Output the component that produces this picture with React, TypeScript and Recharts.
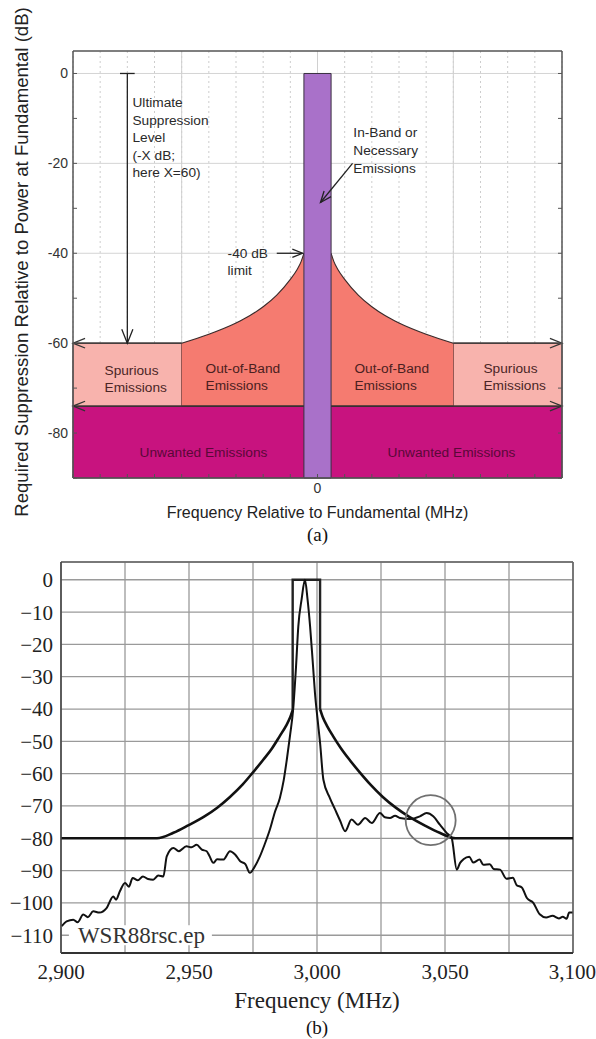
import {
  ComposedChart,
  Line,
  Area,
  XAxis,
  YAxis,
  CartesianGrid,
  ReferenceArea,
  ReferenceLine,
  ReferenceDot,
  Label,
} from 'recharts';

const SANS = '"Liberation Sans", Arial, Helvetica, sans-serif';
const SERIF = '"Liberation Serif", "Times New Roman", serif';

// ---------- (a) emission mask schematic ----------
const offsetRange = [-9, 9];
const offsetTicks = [-9, -8, -7, -6, -5, -4, -3, -2, -1, 0, 1, 2, 3, 4, 5, 6, 7, 8, 9];
const solidOffsetGrid = [-5, 0, 5];
const suppressionRange = [-90, 5];
const suppressionTicks = [-90, -80, -70, -60, -50, -40, -30, -20, -10, 0];
const suppressionGrid = [0, -20, -40, -60, -80];

// limit curve, one side of the band (offset from band edge outwards)
const oobLeftOffsets = [-5, -4, -3, -2.5, -2, -1.5, -1, -0.75, -0.6, -0.5];
const oobLeftLimit = [-60, -58, -55.5, -53.9, -51.9, -49.3, -45.8, -43.6, -41.8, -40];
const oobRightOffsets = [0.5, 0.6, 0.75, 1, 1.5, 2, 2.5, 3, 4, 5];
const oobRightLimit = [-40, -41.8, -43.6, -45.8, -49.3, -51.9, -53.9, -55.5, -58, -60];

const spuriousLevel = -60;
const unwantedTop = -74;
const floorLevel = -90;
const bandEdge = 0.5;
const oobEdge = 5;
const ultimateOffset = -7;

// ---------- (b) WSR-88D measured spectrum ----------
const freqRange = [2900, 3100];
const freqTicks = [2900, 2925, 2950, 2975, 3000, 3025, 3050, 3075, 3100];
const levelRange = [-115.5, 5.5];
const levelTicks = [-110, -100, -90, -80, -70, -60, -50, -40, -30, -20, -10, 0];

const maskLeftFreq = [2900, 2937.5, 2943.9, 2949.7, 2955.9, 2960.9, 2966, 2970.9, 2975, 2979, 2982.4, 2985.5, 2987.9, 2989.4, 2990.5];
const maskLeftLevel = [-80, -80, -78.3, -76, -73.3, -70.6, -67.2, -63.4, -59.6, -55.7, -52.2, -48.3, -45.2, -42.8, -40.3];
const maskBoxFreq = [2990.5, 2990.5, 3001.2, 3001.2];
const maskBoxLevel = [-40.3, 0, 0, -40];
const maskRightFreq = [3001.2, 3002.4, 3003.9, 3006.2, 3009.4, 3012.7, 3016.7, 3020.9, 3025.7, 3030.9, 3035.9, 3042, 3047.9, 3054.2, 3100];
const maskRightLevel = [-40, -42.8, -45.2, -48.3, -52.2, -55.7, -59.6, -63.4, -67.2, -70.6, -73.3, -76, -78.3, -80, -80];

const spectrumFreq = [
  2900.3, 2902.2, 2904.8, 2906.5, 2908.7, 2910.5, 2912.6, 2915, 2917.8, 2920.4,
  2921.5, 2923, 2925, 2926.5, 2928, 2930, 2932, 2934, 2936, 2938,
  2940, 2941.3, 2943.9, 2946, 2949, 2951, 2953, 2955, 2956.9, 2958,
  2959.5, 2961, 2963.4, 2966, 2968, 2970, 2972, 2973.8, 2975.5, 2977.7,
  2979.5, 2981.6, 2983.5, 2985.5, 2987, 2988.2, 2989.5, 2990.7, 2991.8, 2992.7,
  2994, 2995.3, 2996.3, 2997.3, 2998.3, 2999.2, 3000.2, 3001.2, 3002.5, 3005,
  3007, 3009, 3011, 3013.5, 3016, 3018.8, 3021.4, 3024.6, 3026.5, 3028.5,
  3030.5, 3032.4, 3036.3, 3040.2, 3042.8, 3045.4, 3048, 3050.7, 3052.6, 3054.6,
  3055.9, 3057.2, 3059.5, 3061, 3063.5, 3065, 3067.5, 3069, 3071.5, 3074,
  3076.5, 3078, 3080, 3082, 3084.5, 3087, 3089.5, 3092, 3094.5, 3096, 3097.5,
  3098.5, 3099.8,
];
const spectrumLevel = [
  -107.2, -105.7, -105.2, -106, -103.6, -104.4, -102.6, -103, -101.6, -98,
  -99, -96.4, -93.8, -95, -92.3, -93, -91.8, -92.6, -92.8, -91.5,
  -91.8, -85.6, -83, -84, -82.5, -82.8, -82, -83.5, -84, -85.5,
  -87.6, -86.5, -86.6, -84, -85, -87.1, -88, -90.7, -89, -85.6,
  -82, -77.3, -72, -67.5, -62, -55.7, -48, -40, -27, -14.4,
  -6, 0, -6, -14.4, -25, -35, -43, -50.5, -61.9, -67.5,
  -71, -74.5, -77.8, -74.2, -75.8, -73.7, -75.3, -72.2, -73.5, -73.7,
  -73, -73.7, -74, -73.2, -72.2, -73.2, -75.8, -78.4, -79.9, -89.7,
  -87.6, -86.5, -85.7, -87.5, -86.6, -88.2, -88, -89.5, -89.7, -92.5,
  -92.2, -94.5, -95.2, -98.5, -100, -103.5, -104.5, -104, -104.8, -104.3, -104.9,
  -103, -103,
];
const circleCenter = { f: 3044.4, v: -74.4 };

const zip = (xs: number[], ys: number[]) => xs.map((f, i) => ({ f, v: ys[i] }));
const band = (xs: number[], ys: number[]) => xs.map((f, i) => ({ f, band: [unwantedTop, ys[i]] }));

const oobLeft = band(oobLeftOffsets, oobLeftLimit);
const oobRight = band(oobRightOffsets, oobRightLimit);
const maskLeft = zip(maskLeftFreq, maskLeftLevel);
const maskBox = zip(maskBoxFreq, maskBoxLevel);
const maskRight = zip(maskRightFreq, maskRightLevel);
const spectrum = zip(spectrumFreq, spectrumLevel);

// line with an open "V" head at its end point
const arrow = (color = '#333', head = 13) => (p: any) => {
  const { x1, y1, x2, y2 } = p;
  const a = Math.atan2(y2 - y1, x2 - x1);
  const s = 0.38;
  const ax = x2 - head * Math.cos(a - s);
  const ay = y2 - head * Math.sin(a - s);
  const bx = x2 - head * Math.cos(a + s);
  const by = y2 - head * Math.sin(a + s);
  return (
    <g>
      <line x1={x1} y1={y1} x2={x2} y2={y2} stroke={color} strokeWidth={1.3} />
      <polyline points={`${ax},${ay} ${x2},${y2} ${bx},${by}`} fill="none" stroke={color} strokeWidth={1.3} />
    </g>
  );
};

const note = (lines: string[], color: string, size = 13.7, lh = 17.5, family = SANS) => (p: any) => (
  <text x={p.cx} y={p.cy} fill={color} fontSize={size} fontFamily={family} dominantBaseline="central">
    {lines.map((t, i) => (
      <tspan key={i} x={p.cx} dy={i ? lh : 0}>
        {t}
      </tspan>
    ))}
  </text>
);

const axisGrey = '#555';
const tickA = { fontSize: 14, fill: '#333', fontFamily: SANS };

function MaskSchematic() {
  return (
    <ComposedChart width={596} height={548} margin={{ top: 50, right: 33, bottom: 0, left: 0 }}>
      <CartesianGrid vertical={false} horizontalValues={suppressionGrid} stroke="#d4d4d4" />
      <CartesianGrid horizontal={false} strokeDasharray="2 3" stroke="#cdcdcd" />
      <CartesianGrid horizontal={false} verticalValues={solidOffsetGrid} stroke="#d0d0d0" />

      <XAxis
        dataKey="f"
        type="number"
        domain={offsetRange}
        ticks={offsetTicks}
        allowDataOverflow
        tickSize={-4}
        tickMargin={9}
        tickFormatter={(v: number) => (v === 0 ? '0' : '')}
        tick={tickA}
        axisLine={{ stroke: axisGrey, strokeWidth: 1.5 }}
        tickLine={{ stroke: axisGrey }}
        height={70}
      >
        <Label
          value="Frequency Relative to Fundamental (MHz)"
          position="insideTop"
          offset={29}
          fontSize={16}
          fill="#222"
          fontFamily={SANS}
        />
        <Label value="(a)" position="insideTop" offset={50} fontSize={19} fill="#111" fontFamily={SERIF} />
      </XAxis>
      <XAxis
        xAxisId="top"
        orientation="top"
        type="number"
        domain={offsetRange}
        ticks={offsetTicks}
        allowDataOverflow
        tickSize={-4}
        tickFormatter={() => ''}
        axisLine={{ stroke: axisGrey, strokeWidth: 1.5 }}
        tickLine={{ stroke: axisGrey }}
        height={1}
      />
      <YAxis
        type="number"
        domain={suppressionRange}
        ticks={suppressionTicks}
        allowDataOverflow
        tickSize={-4}
        tickMargin={9}
        tickFormatter={(v: number) => (v % 20 === 0 ? String(v) : '')}
        tick={tickA}
        axisLine={{ stroke: axisGrey, strokeWidth: 1.5 }}
        tickLine={{ stroke: axisGrey }}
        width={73}
      >
        <Label
          content={() => (
            <text
              transform="translate(21, 262) rotate(-90)"
              textAnchor="middle"
              dominantBaseline="central"
              fontSize={18.6}
              fill="#222"
              fontFamily={SANS}
            >
              Required Suppression Relative to Power at Fundamental (dB)
            </text>
          )}
        />
      </YAxis>
      <YAxis
        yAxisId="right"
        orientation="right"
        type="number"
        domain={suppressionRange}
        ticks={suppressionTicks}
        allowDataOverflow
        tickSize={-4}
        tickFormatter={() => ''}
        axisLine={{ stroke: axisGrey, strokeWidth: 1.5 }}
        tickLine={{ stroke: axisGrey }}
        width={1}
      />

      {/* unwanted emissions floor */}
      <ReferenceArea
        x1={offsetRange[0]}
        x2={offsetRange[1]}
        y1={floorLevel}
        y2={unwantedTop}
        fill="#c8137f"
        fillOpacity={1}
        stroke="#5a2a40"
        strokeWidth={1}
        zIndex={50}
      />
      {/* spurious boxes */}
      <ReferenceArea
        x1={offsetRange[0]}
        x2={-oobEdge}
        y1={unwantedTop}
        y2={spuriousLevel}
        fill="#f8b3ad"
        fillOpacity={1}
        stroke="#4a3030"
        strokeWidth={1}
        zIndex={50}
      />
      <ReferenceArea
        x1={oobEdge}
        x2={offsetRange[1]}
        y1={unwantedTop}
        y2={spuriousLevel}
        fill="#f8b3ad"
        fillOpacity={1}
        stroke="#4a3030"
        strokeWidth={1}
        zIndex={50}
      />
      {/* out-of-band limit curve, both sides */}
      <Area
        data={oobLeft}
        dataKey="band"
        type="monotone"
        fill="#f57b70"
        fillOpacity={1}
        stroke="#3a2a2a"
        strokeWidth={1.1}
        isAnimationActive={false}
        dot={false}
        activeDot={false}
        zIndex={100}
      />
      <Area
        data={oobRight}
        dataKey="band"
        type="monotone"
        fill="#f57b70"
        fillOpacity={1}
        stroke="#3a2a2a"
        strokeWidth={1.1}
        isAnimationActive={false}
        dot={false}
        activeDot={false}
        zIndex={100}
      />
      {/* necessary emission band */}
      <ReferenceArea
        x1={-bandEdge}
        x2={bandEdge}
        y1={floorLevel}
        y2={0}
        fill="#a971c9"
        fillOpacity={1}
        stroke="#3a3040"
        strokeWidth={1}
        zIndex={150}
      />

      {/* arrows */}
      <ReferenceLine segment={[{ x: -oobEdge, y: spuriousLevel }, { x: offsetRange[0], y: spuriousLevel }]} shape={arrow()} zIndex={200} />
      <ReferenceLine segment={[{ x: oobEdge, y: spuriousLevel }, { x: offsetRange[1], y: spuriousLevel }]} shape={arrow()} zIndex={200} />
      <ReferenceLine segment={[{ x: -bandEdge, y: unwantedTop }, { x: offsetRange[0], y: unwantedTop }]} shape={arrow()} zIndex={200} />
      <ReferenceLine segment={[{ x: bandEdge, y: unwantedTop }, { x: offsetRange[1], y: unwantedTop }]} shape={arrow()} zIndex={200} />
      <ReferenceLine segment={[{ x: ultimateOffset, y: 0 }, { x: ultimateOffset, y: spuriousLevel }]} shape={arrow('#222', 15)} zIndex={200} />
      <ReferenceLine
        segment={[{ x: ultimateOffset - 0.27, y: 0 }, { x: ultimateOffset + 0.27, y: 0 }]}
        stroke="#222"
        strokeWidth={1.3}
        zIndex={200}
      />
      <ReferenceLine segment={[{ x: -1.5, y: -40 }, { x: -0.55, y: -40 }]} shape={arrow('#222', 11)} zIndex={200} />
      <ReferenceLine segment={[{ x: 1.29, y: -20 }, { x: 0.11, y: -28.7 }]} shape={arrow('#222', 12)} zIndex={200} />

      {/* annotations */}
      <ReferenceDot
        x={-6.81}
        y={-6.4}
        ifOverflow="visible"
        shape={note(['Ultimate', 'Suppression', 'Level', '(-X dB;', 'here X=60)'], '#2a2a2a')}
        zIndex={250}
      />
      <ReferenceDot x={-3.31} y={-40} ifOverflow="visible" shape={note(['-40 dB', 'limit'], '#2a2a2a', 13.7, 17)} zIndex={250} />
      <ReferenceDot
        x={1.32}
        y={-13.1}
        ifOverflow="visible"
        shape={note(['In-Band or', 'Necessary', 'Emissions'], '#2a2a2a', 13.7, 18)}
        zIndex={250}
      />
      <ReferenceDot x={-7.84} y={-66} ifOverflow="visible" shape={note(['Spurious', 'Emissions'], '#4a2525', 13.7, 17)} zIndex={250} />
      <ReferenceDot x={-4.12} y={-65.6} ifOverflow="visible" shape={note(['Out-of-Band', 'Emissions'], '#4a2020', 13.7, 17)} zIndex={250} />
      <ReferenceDot x={1.36} y={-65.6} ifOverflow="visible" shape={note(['Out-of-Band', 'Emissions'], '#4a2020', 13.7, 17)} zIndex={250} />
      <ReferenceDot x={6.11} y={-65.6} ifOverflow="visible" shape={note(['Spurious', 'Emissions'], '#4a2525', 13.7, 17)} zIndex={250} />
      <ReferenceDot x={-6.55} y={-84.2} ifOverflow="visible" shape={note(['Unwanted Emissions'], '#5a0838')} zIndex={250} />
      <ReferenceDot x={2.58} y={-84.2} ifOverflow="visible" shape={note(['Unwanted Emissions'], '#5a0838')} zIndex={250} />
    </ComposedChart>
  );
}

const tickB = { fontSize: 21, fill: '#222', fontFamily: SERIF };

function MeasuredSpectrum() {
  return (
    <ComposedChart width={596} height={491} margin={{ top: 14, right: 23, bottom: 0, left: 0 }}>
      <CartesianGrid stroke="#9a9a9a" strokeWidth={1.3} />
      <XAxis
        dataKey="f"
        type="number"
        domain={freqRange}
        ticks={freqTicks}
        allowDataOverflow
        tickSize={0}
        tickMargin={11}
        tickFormatter={(v: number) => (v % 50 === 0 ? v.toLocaleString('en-US') : '')}
        tick={tickB}
        axisLine={{ stroke: '#333', strokeWidth: 2 }}
        tickLine={false}
        height={86}
      >
        <Label value="Frequency (MHz)" position="insideTop" offset={39} fontSize={23} fill="#222" fontFamily={SERIF} />
        <Label value="(b)" position="insideTop" offset={68} fontSize={19} fill="#111" fontFamily={SERIF} />
      </XAxis>
      <YAxis
        type="number"
        domain={levelRange}
        ticks={levelTicks}
        allowDataOverflow
        tickSize={0}
        tickMargin={8}
        tickFormatter={(v: number) => (v < 0 ? '\u2212' + Math.abs(v) : String(v))}
        tick={tickB}
        axisLine={{ stroke: '#444', strokeWidth: 1.6 }}
        tickLine={false}
        width={61}
      />
      <ReferenceLine y={levelRange[1]} stroke="#666" strokeWidth={1.6} />
      <ReferenceLine x={freqRange[1]} stroke="#666" strokeWidth={1.6} />

      <ReferenceDot
        x={2906.6}
        y={-110}
        ifOverflow="visible"
        shape={(p: any) => (
          <g>
            <rect x={p.cx - 9} y={p.cy - 10} width={143} height={20} fill="#fff" />
            <text x={p.cx} y={p.cy} fontSize={23} fill="#333" fontFamily={SERIF} dominantBaseline="central">
              WSR88rsc.ep
            </text>
          </g>
        )}
        zIndex={350}
      />

      <Line data={maskLeft} dataKey="v" type="monotone" stroke="#111" strokeWidth={2.6} dot={false} activeDot={false} isAnimationActive={false} />
      <Line data={maskBox} dataKey="v" type="linear" stroke="#222" strokeWidth={2.4} dot={false} activeDot={false} isAnimationActive={false} />
      <Line data={maskRight} dataKey="v" type="monotone" stroke="#111" strokeWidth={2.6} dot={false} activeDot={false} isAnimationActive={false} />
      <Line data={spectrum} dataKey="v" type="monotone" stroke="#111" strokeWidth={2} dot={false} activeDot={false} isAnimationActive={false} />

      <ReferenceDot
        x={circleCenter.f}
        y={circleCenter.v}
        r={25}
        fill="none"
        stroke="#707070"
        strokeWidth={1.8}
        ifOverflow="visible"
        zIndex={600}
      />
    </ComposedChart>
  );
}

export default function App() {
  return (
    <div style={{ position: 'absolute', left: 0, top: 0, width: 596, height: 1039, background: '#fff' }}>
      <MaskSchematic />
      <MeasuredSpectrum />
    </div>
  );
}
